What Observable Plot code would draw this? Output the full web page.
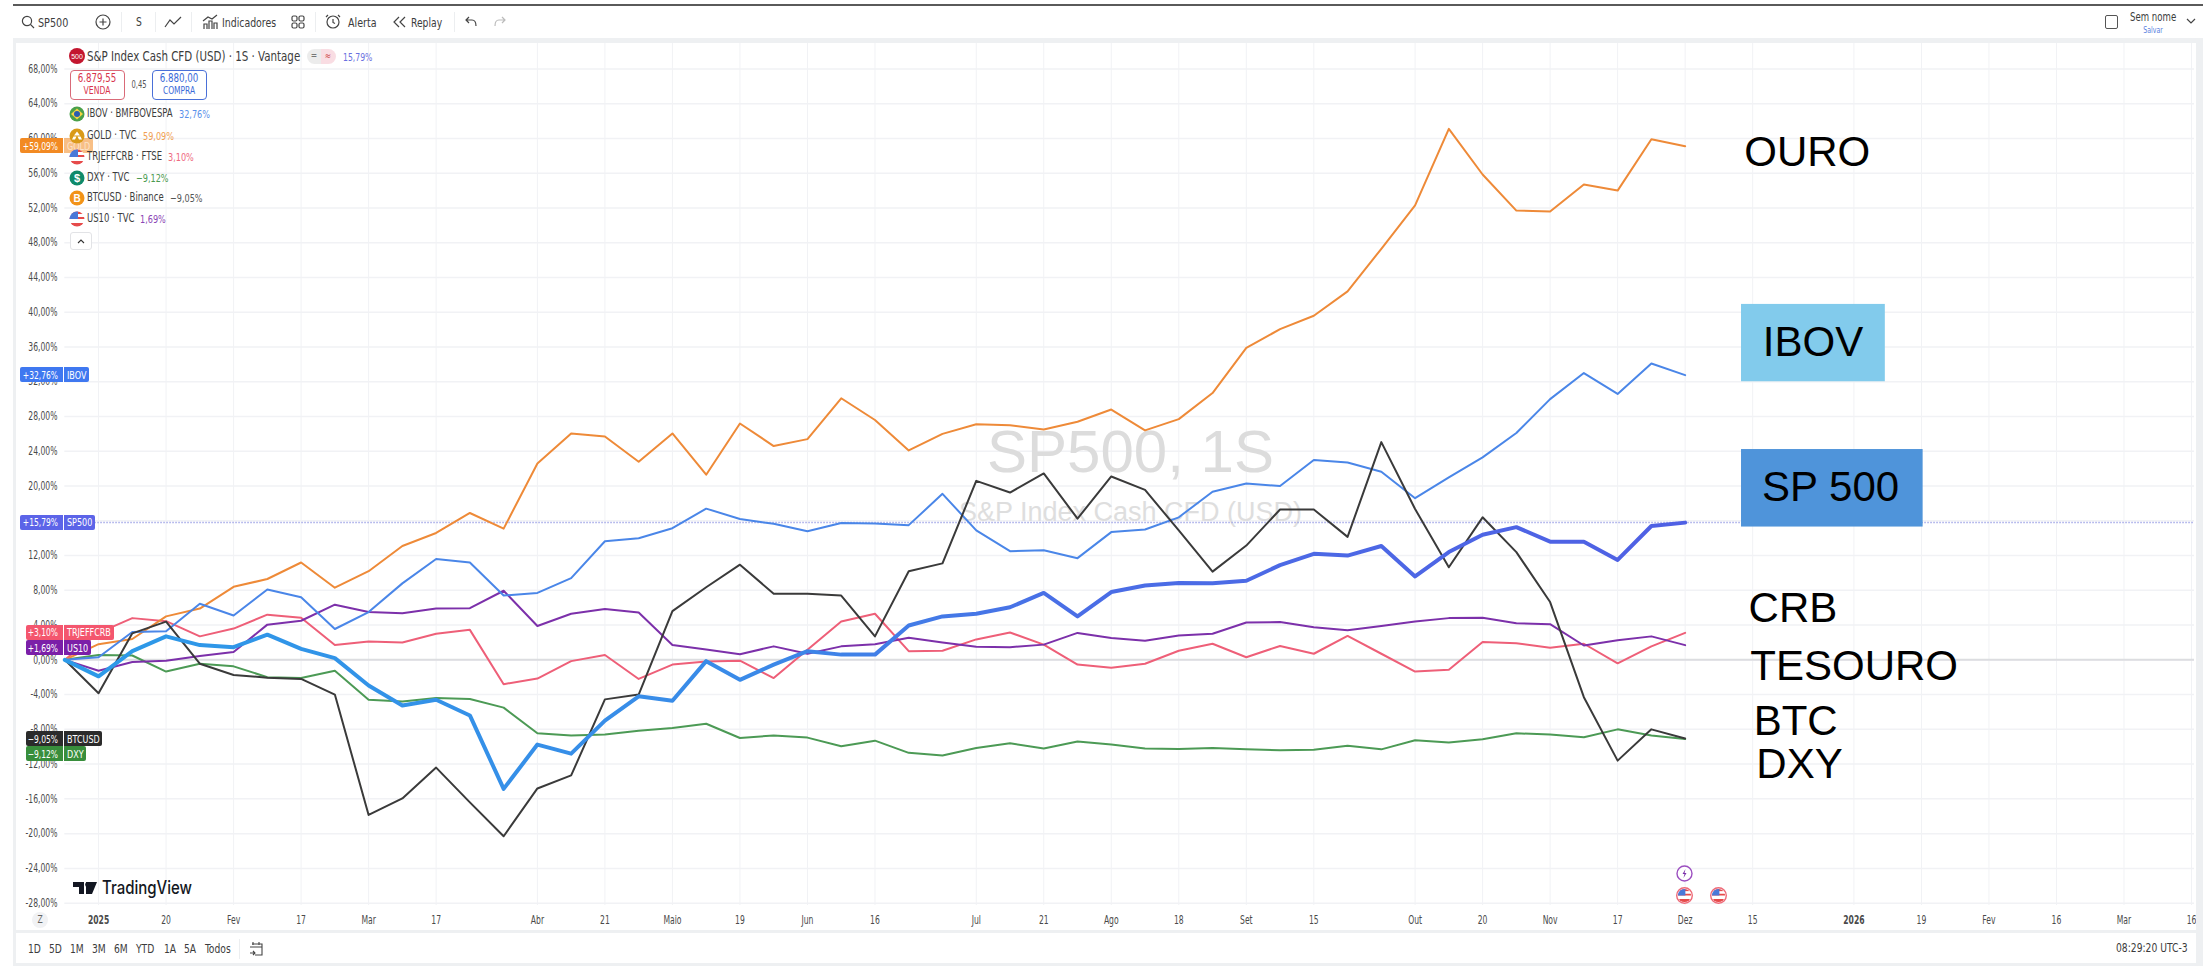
<!DOCTYPE html>
<html lang="pt-BR">
<head>
<meta charset="utf-8">
<title>SP500, 1S</title>
<script src="https://cdn.jsdelivr.net/npm/d3@7"></script>
<script src="https://cdn.jsdelivr.net/npm/@observablehq/plot@0.6"></script>
<style>
html,body{margin:0;padding:0;background:#fff}
#root{position:relative;width:2203px;height:966px;overflow:hidden;background:#fff;font-family:"DejaVu Sans Condensed","DejaVu Sans",sans-serif}
#head{height:42px}
#foot{height:35px}
#chart svg{display:block}
.t{position:absolute;white-space:nowrap;line-height:1}
.b{position:absolute;box-sizing:border-box}
.i{position:absolute;overflow:visible}
</style>
</head>
<body>
<div id="root"><div id="head"></div><div id="chart"></div><div id="foot"></div></div>
<script>
// Percent change per week, week 0 = 30 Dec 2024, week 48 = 1 Dec 2025
const sp500 = [0,-1.9,1,2.7,1.7,1.45,2.9,1.26,0.2,-2.95,-5.25,-4.6,-6.4,-14.85,-9.75,-10.8,-7,-4.2,-4.7,-0.15,-2.3,-0.55,1,0.6,0.6,3.95,5,5.3,6.05,7.7,5,7.8,8.55,8.85,8.8,9.1,10.9,12.2,12,13.1,9.6,12.4,14.4,15.27,13.6,13.6,11.5,15.4,15.79];
const ibov = [0,0.3,3.2,3.3,6.45,5.1,8.1,7.2,3.55,5.5,8.8,11.6,11.2,7.4,7.7,9.4,13.65,14,15.15,17.4,16.2,15.65,14.8,15.75,15.7,15.5,19.1,14.9,12.5,12.6,11.7,14.7,15,16.4,19.35,20.3,20,23,22.7,21.65,18.6,21,23.3,26.1,30,33,30.6,34.1,32.76];
const gold = [0,1.8,2.4,5,5.9,8.4,9.3,11.2,8.3,10.2,13.1,14.6,16.9,15.1,22.6,26.05,25.7,22.8,26.05,21.3,27.2,24.6,25.4,30.1,27.6,24.1,26,27.1,27,26.5,27.4,28.8,26.4,27.7,30.7,35.9,38.05,39.6,42.4,47.3,52.3,61.1,55.85,51.7,51.6,54.7,54,59.9,59.09];
const crb = [0,3.1,4.8,4.45,2.7,3.6,5.2,4.85,1.7,2.1,2,3,3.45,-2.8,-2.15,-0.15,0.55,-2.2,-0.55,-0.2,-0.1,-2.1,1.15,4.4,5.3,1,1.05,2.35,3.15,1.75,-0.55,-0.9,-0.45,1.05,1.85,0.3,1.6,0.7,2.75,0.7,-1.35,-1.15,2.05,1.9,1.4,1.85,-0.4,1.55,3.1];
const us10 = [0,-1.25,-0.25,-0.1,0.45,0.9,4.05,4.5,6.35,5.5,5.35,5.9,5.95,7.95,3.9,5.3,5.85,5.45,1.7,1.2,0.65,1.55,0.7,1.55,1.8,2.55,2,1.5,1.45,1.75,3.1,2.5,2.2,2.8,3,4.3,4.35,3.75,3.4,3.9,4.4,4.8,4.85,4.2,4.1,1.65,2.25,2.7,1.69];
const dxy = [0,0.55,0.5,-1.35,-0.45,-0.75,-2,-2.1,-1.25,-4.6,-4.8,-4.4,-4.5,-5.5,-8.45,-8.7,-8.6,-8.15,-7.85,-7.35,-9,-8.7,-8.95,-9.95,-9.3,-10.7,-11,-10.15,-9.6,-10.2,-9.4,-9.75,-10.2,-10.25,-10.15,-10.3,-10.4,-10.35,-9.9,-10.3,-9.25,-9.5,-9.15,-8.45,-8.6,-8.9,-8,-8.7,-9.12];
const btc = [0,-3.85,3.05,4.4,-0.45,-1.75,-2.05,-2.2,-4,-17.85,-15.95,-12.4,-16.4,-20.3,-14.8,-13.3,-4.55,-4,5.6,8.35,10.95,7.6,7.6,7.4,2.7,10.2,11.1,20.6,19.25,21.45,16.25,21.1,19.55,14.9,10.15,13.15,17.3,17.3,14.15,25.05,17.35,10.65,16.4,12.4,6.65,-4.3,-11.6,-8,-9.05];

const tickWeeks  = [1,3,5,7,9,11,14,16,18,20,22,24,27,29,31,33,35,37,40,42,44,46,48,50,53,55,57,59,61,63];
const tickLabels = ["2025","20","Fev","17","Mar","17","Abr","21","Maio","19","Jun","16","Jul","21","Ago","18","Set","15","Out","20","Nov","17","Dez","15","2026","19","Fev","16","Mar","16"];
const yTicks = [-28,-24,-20,-16,-12,-8,-4,0,4,8,12,16,20,24,28,32,36,40,44,48,52,56,60,64,68];

// Labels typed over the chart on the right (week, percent)
const noteText  = ["OURO","CRB","TESOURO","BTC","DXY","IBOV","SP 500"];
const noteWeek  = [49.75,49.88,49.93,50.03,50.11,50.3,50.28];
const notePct   = [58.4,5.95,-0.75,-7.1,-12.05,36.5,19.83];
const noteBox   = [{t:"IBOV",w1:49.67,w2:53.93,p1:32,p2:40.9,c:"#82cbec"},{t:"SP 500",w1:49.67,w2:55.05,p1:15.28,p2:24.2,c:"#4f94da"}];

const badgeNames  = ["GOLD","IBOV","SP500","TRJEFFCRB","US10","BTCUSD","DXY"];
const badgeLast   = [59.09,32.76,15.79,3.10,1.69,-9.05,-9.12];
const badgeText   = ["+59,09%","+32,76%","+15,79%","+3,10%","+1,69%","−9,05%","−9,12%"];
const badgeColor  = ["#f28a23","#3f78f0","#5c64e8","#f4566e","#7b1fa8","#2b2b2b","#388e3c"];
const badgeNudge  = [0,0,0,0,3,1,15];
const badgeLeft   = [19.6,19.6,19.6,25.7,25.7,25.7,25.7];

const legendRows = [
 {n:"IBOV · BMFBOVESPA",v:"32,76%",c:"#5a90ea",y:114,k:"br"},
 {n:"GOLD · TVC",v:"59,09%",c:"#f0a050",y:136,k:"au"},
 {n:"TRJEFFCRB · FTSE",v:"3,10%",c:"#ee6a80",y:157,k:"us"},
 {n:"DXY · TVC",v:"−9,12%",c:"#4c9a50",y:177.5,k:"us$"},
 {n:"BTCUSD · Binance",v:"−9,05%",c:"#555",y:198,k:"btc"},
 {n:"US10 · TVC",v:"1,69%",c:"#8a45b5",y:219,k:"us"}
];

const W0 = Date.UTC(2024,11,30), WEEK = 7*864e5;
const wk = w => new Date(W0 + w*WEEK);
const rows = s => s.map((v,i)=>({date:wk(i),value:v}));
const tickMap = new Map(tickWeeks.map((w,i)=>[+wk(w),tickLabels[i]]));
const tickDates = tickWeeks.map(wk);
const isYear = d => /^20\d\d$/.test(tickMap.get(+d));
const pct = d => d3.format(".2f")(d).replace(".",",").replace("−","-") + "%";

const thin = 2;
const plot = Plot.plot({
  width:2203, height:889,
  marginTop:0, marginBottom:26, marginLeft:64.3, marginRight:9,
  style:{fontFamily:'"DejaVu Sans Condensed","DejaVu Sans",sans-serif',fontSize:"11px",color:"#4a4a4a",background:"#fff",overflow:"visible"},
  x:{type:"utc",domain:[wk(0),wk(63)],range:[64.3,2191]},
  y:{domain:[-28.27,71.04],range:[863,0]},
  marks:[
    Plot.ruleX(tickDates,{stroke:"#f1f2f5",strokeWidth:1}),
    Plot.ruleY(yTicks,{stroke:"#f1f2f5",strokeWidth:1.5}),
    Plot.ruleY([0],{stroke:"#dcdde0",strokeWidth:2}),
    Plot.text(["SP500, 1S"],{x:()=>wk(31.57),y:()=>23.85,text:d=>d,fontSize:60,fill:"#dcdcdc",fontFamily:'"Liberation Sans",Arial,sans-serif'}),
    Plot.text(["S&P Index Cash CFD (USD)"],{x:()=>wk(31.57),y:()=>16.95,text:d=>d,fontSize:27,fill:"#dedede",fontFamily:'"Liberation Sans",Arial,sans-serif'}),
    Plot.ruleY([15.79],{stroke:"#a6abe8",strokeWidth:1.5,strokeDasharray:"1.5,1.5"}),
    Plot.axisY(yTicks,{anchor:"left",tickSize:0,tickPadding:7.3,tickFormat:pct,label:null,fontSize:11.5}),
    Plot.axisX(tickDates.filter(d=>!isYear(d)),{anchor:"bottom",tickSize:0,tickPadding:10,tickFormat:d=>tickMap.get(+d),label:null,fontSize:11.5}),
    Plot.axisX(tickDates.filter(isYear),{anchor:"bottom",tickSize:0,tickPadding:10,tickFormat:d=>tickMap.get(+d),label:null,fontSize:11.5,fontWeight:600}),
    Plot.line(rows(dxy),{x:"date",y:"value",stroke:"#4c9a55",strokeWidth:thin}),
    Plot.line(rows(crb),{x:"date",y:"value",stroke:"#ee5f78",strokeWidth:thin}),
    Plot.line(rows(us10),{x:"date",y:"value",stroke:"#7c30aa",strokeWidth:thin}),
    Plot.line(rows(gold),{x:"date",y:"value",stroke:"#ee8a38",strokeWidth:thin}),
    Plot.line(rows(ibov),{x:"date",y:"value",stroke:"#4a86e8",strokeWidth:thin}),
    Plot.line(rows(btc),{x:"date",y:"value",stroke:"#3a3a3a",strokeWidth:thin}),
    () => {
      const ns="http://www.w3.org/2000/svg";
      const defs=document.createElementNS(ns,"defs"), g=document.createElementNS(ns,"linearGradient");
      g.setAttribute("id","spgrad");
      [[0,"#2c9ae8"],[.42,"#3a8ae8"],[.62,"#4a6ee6"],[1,"#4f60e4"]].forEach(([o,c])=>{
        const s=document.createElementNS(ns,"stop");s.setAttribute("offset",o);s.setAttribute("stop-color",c);g.appendChild(s);});
      defs.appendChild(g);return defs;
    },
    Plot.line(rows(sp500),{x:"date",y:"value",stroke:"url(#spgrad)",strokeWidth:4}),
    Plot.rect(noteBox,{x1:d=>wk(d.w1),x2:d=>wk(d.w2),y1:"p1",y2:"p2",fill:"c"}),
    Plot.text(noteText,{x:(d,i)=>wk(noteWeek[i]),y:(d,i)=>notePct[i],text:d=>d,textAnchor:"start",fontSize:42,fill:"#000",fontFamily:'"Liberation Sans",Arial,sans-serif'})
  ]
});
document.getElementById("chart").appendChild(plot);

// axis labels in the reference are tall and narrow: squeeze each around its own anchor
plot.querySelectorAll('g[aria-label$="tick label"] text').forEach(t=>{
  const tr=t.getAttribute("transform")||"";
  t.setAttribute("transform",tr+" scale(.74,1)");
});
plot.querySelectorAll('g[aria-label$="tick label"]').forEach(g=>{
  const tr=g.getAttribute("transform");
  if(!g.querySelector("text").getAttribute("transform").includes("translate")&&tr) return;
});

// ---------- chrome drawn around the chart ----------
const root=document.getElementById("root");
const yPx=v=>plot.scale("y").apply(v)+42, xPx=d=>plot.scale("x").apply(d);
function T(s,x,y,o={}){
  const e=document.createElement("span");e.className="t";e.textContent=s;
  e.style.cssText=`left:${x}px;top:${y}px;font-size:${o.s||12}px;color:${o.c||"#3c3c3c"};font-weight:${o.w||400};`+(o.f?`font-family:${o.f};`:"");
  root.appendChild(e);
  const sx=o.fit?o.fit/e.offsetWidth:(o.sx||.85);
  if(o.a==="c"){e.style.transformOrigin="50% 50%";e.style.transform=`translate(-50%,-50%) scaleX(${sx})`;}
  else if(o.a==="r"){e.style.transformOrigin="100% 50%";e.style.transform=`translate(-100%,-50%) scaleX(${sx})`;}
  else{e.style.transformOrigin="0 50%";e.style.transform=`translateY(-50%) scaleX(${sx})`;}
  return e;
}
function B(x,y,w,h,css){const e=document.createElement("div");e.className="b";e.style.cssText=`left:${x}px;top:${y}px;width:${w}px;height:${h}px;${css||""}`;root.appendChild(e);return e;}
function I(cx,cy,w,h,inner){const ns="http://www.w3.org/2000/svg";const s=document.createElementNS(ns,"svg");s.setAttribute("class","i");
  s.setAttribute("width",w);s.setAttribute("height",h);s.setAttribute("viewBox",`0 0 ${w} ${h}`);s.style.left=(cx-w/2)+"px";s.style.top=(cy-h/2)+"px";s.innerHTML=inner;root.appendChild(s);return s;}

// frame bands
B(13,4,2190,1.5,"background:#5a5a5a");
B(13,38,2190,4.5,"background:#eef0f2");
B(13,38,3,928,"background:#eef0f2");
B(13,930,2190,3,"background:#eef0f2");
B(13,963,2190,3,"background:#eef0f2");
B(2196,38,7,928,"background:#eef0f2");

// toolbar
const line='fill="none" stroke="#444" stroke-width="1.2"';
I(28,22,14,14,`<circle cx="6" cy="6" r="4.6" ${line}/><path d="M9.4 9.4L13 13" ${line}/>`);
T("SP500",37.5,22,{s:13,fit:30.5});
I(103,22,16,16,`<circle cx="8" cy="8" r="7" ${line}/><path d="M8 4.5V11.5M4.5 8H11.5" ${line}/>`);
T("S",138.5,22,{s:12,a:"c"});
I(173,22,18,14,`<path d="M1 12L6 5L10 9L17 2" ${line}/>`);
T("Indicadores",222,22,{s:13,fit:54.5});
I(210,22,16,16,`<path d="M2 15V10H5V15M7 15V7H10V15M12 15V9H15V15M1 7L6 3L10 5L15 1" ${line}/>`);
I(298,22,14,14,`<rect x="1" y="1" width="5" height="5" rx="1.5" ${line}/><rect x="8" y="1" width="5" height="5" rx="1.5" ${line}/><rect x="1" y="8" width="5" height="5" rx="1.5" ${line}/><rect x="8" y="8" width="5" height="5" rx="1.5" ${line}/>`);
I(333,22,16,18,`<circle cx="8" cy="9" r="6" ${line}/><path d="M8 6V9.5L10 10.5M3 2L1 4M13 2L15 4" ${line}/>`);
T("Alerta",347.5,22,{s:13,fit:28.5});
I(399,22,13,12,`<path d="M6 1L1 6L6 11M12 1L7 6L12 11" ${line}/>`);
T("Replay",411,22,{s:13,fit:31.5});
I(471,22,12,12,`<path d="M4 1L1 4L4 7M1 4H7C10 4 11 6 11 10" ${line}/>`);
I(500,22,12,12,`<path d="M8 1L11 4L8 7M11 4H5C2 4 1 6 1 10" fill="none" stroke="#bbb" stroke-width="1.2"/>`);
[121,155,191,315,454].forEach(x=>B(x,12,1,20,"background:#eceef0"));
B(2105,15,13,14,"border:1.3px solid #555;border-radius:2px");
T("Sem nome",2130,18,{s:11.5,fit:46.5});
T("Salvar",2153,29.5,{s:8.5,c:"#5b7fe0",a:"c",fit:19.5});
I(2191,21,10,6,`<path d="M1 1L5 5L9 1" ${line}/>`);

// price badges on the axis
badgeNames.forEach((n,i)=>{
  const cy=yPx(badgeLast[i])+badgeNudge[i], c=badgeColor[i], x0=badgeLeft[i];
  B(x0,cy-7.5,63-x0,15,`background:${c};border-radius:2px 0 0 2px`);
  const nm=T(n,66.8,cy,{s:10.5,c:n==="GOLD"?"#fbe3c9":"#fff"});
  const w=nm.getBoundingClientRect().width;
  B(63.8,cy-7.5,w+6,15,`background:${c};border-radius:0 2px 2px 0`+(n==="GOLD"?";opacity:.55":""));
  root.appendChild(nm);
  T(badgeText[i],57.5,cy,{s:10.5,c:"#fff",a:"r",sx:.8});
});

// legend
I(77,55.5,18,18,`<circle cx="9" cy="9" r="8" fill="#c3162f"/><text x="9" y="11.5" font-size="7" fill="#fff" text-anchor="middle" font-family="Liberation Sans">500</text>`);
T("S&P Index Cash CFD (USD) · 1S · Vantage",87,56,{s:14,fit:213});
B(307,49,29,15,"background:linear-gradient(90deg,#ececec 50%,#f9dde3 50%);border-radius:8px");
T("=",314,56,{s:10,c:"#777",a:"c"});T("≈",328,56,{s:10,c:"#c44",a:"c"});
T("15,79%",343,57,{s:11,c:"#6a70e0",fit:29.6});
B(69.6,70,55,30,"border:1.2px solid #d96a78;border-radius:4px;background:#fff");
T("6.879,55",97,78,{s:12.5,c:"#d8344c",a:"c",fit:38.6});T("VENDA",97,90.5,{s:10,c:"#d8344c",a:"c",fit:26.4});
T("0,45",138.5,85,{s:10,c:"#555",a:"c",fit:15});
B(151.8,70,55,30,"border:1.2px solid #4a70d8;border-radius:4px;background:#fff");
T("6.880,00",179.3,78,{s:12.5,c:"#3a6ad8",a:"c",fit:38.6});T("COMPRA",179.3,90.5,{s:10,c:"#3a6ad8",a:"c",fit:32.5});
const flag=`<clipPath id="fc"><circle cx="8" cy="8" r="7.5"/></clipPath><g clip-path="url(#fc)"><rect width="16" height="16" fill="#fff"/><rect y="0" width="16" height="3" fill="#e64a4a"/><rect y="6" width="16" height="2" fill="#e64a4a"/><rect y="12" width="16" height="4" fill="#e64a4a"/><rect width="9" height="8" fill="#4a78d8"/></g>`;
const icons={
 br:`<circle cx="8" cy="8" r="7.5" fill="#4aa04a"/><path d="M8 2.5L14 8L8 13.5L2 8Z" fill="#f5d442"/><circle cx="8" cy="8" r="3" fill="#2a5cb0"/>`,
 au:`<circle cx="8" cy="8" r="7.5" fill="#d99a18"/><path d="M8 3.5L11 7.5H5ZM4.5 8.5H7.5L6 11.5H3ZM8.5 8.5H11.5L13 11.5H10Z" fill="#fff"/>`,
 us:flag,
 "us$":`<circle cx="8" cy="8" r="7.5" fill="#0f8a6a"/><text x="8" y="12" font-size="11" fill="#fff" text-anchor="middle" font-family="Liberation Sans" font-weight="700">$</text>`,
 btc:`<circle cx="8" cy="8" r="7.5" fill="#f29318"/><text x="8" y="12" font-size="10" fill="#fff" text-anchor="middle" font-family="Liberation Sans" font-weight="700">B</text>`
};
legendRows.forEach(r=>{
  I(77,r.y,16,16,icons[r.k]);
  const n=T(r.n,87,r.y,{s:11.5,sx:.82});
  const w=n.getBoundingClientRect().width;
  T(r.v,87+w+6,r.y,{s:11,c:r.c,sx:.82});
});
B(69.6,232,22.5,18,"border:1px solid #e2e3e6;border-radius:3px;background:#fff");
I(81,241,8,5,`<path d="M1 4L4 1L7 4" fill="none" stroke="#333" stroke-width="1.1"/>`);

// TradingView logo
I(84.5,888,24,14,`<path d="M0 1H11V13H6V6H0ZM13 1H24L19 13H13Z" fill="#131722"/><circle cx="14.7" cy="3.6" r="2.5" fill="#131722"/>`);
T("TradingView",102,888,{s:18,c:"#131722",w:500,f:'Inter,"Liberation Sans",sans-serif',fit:90});

// event markers at December
const dez=xPx(wk(48)), dez2=xPx(wk(49));
I(dez,873,17,19,`<circle cx="8.5" cy="9.5" r="7.5" fill="#fff" stroke="#9c4fc0" stroke-width="1.4"/><path d="M9.5 5L6.5 10H8.5L7.5 14L10.5 9H8.5Z" fill="#7c30aa"/>`);
[dez,dez2].forEach(x=>I(x,895,17,19,`<circle cx="8.5" cy="9.5" r="7.8" fill="#fff" stroke="#ee6a78" stroke-width="1.4"/><g transform="translate(1.5,2.5) scale(.875)">${flag}</g>`));
B(32,912,16,16,"background:#f1f2f4;border-radius:50%");
T("Z",40,920,{s:10,c:"#666",a:"c"});

// footer
[["1D",28],["5D",48.6],["1M",70],["3M",92],["6M",113.6],["YTD",135.7],["1A",163.6],["5A",184],["Todos",205]].forEach(([s,x])=>T(s,x,949,{s:12}));
B(239,939,1,20,"background:#eceef0");
I(256,949,14,16,`<path d="M3 3H13V14H6M1 6H13M4 1V4M10 1V4M1 12H6M4 10L6 12L4 14" fill="none" stroke="#444" stroke-width="1.1"/>`);
T("08:29:20 UTC-3",2116,948,{s:12.5,fit:72});
</script>
</body>
</html>
